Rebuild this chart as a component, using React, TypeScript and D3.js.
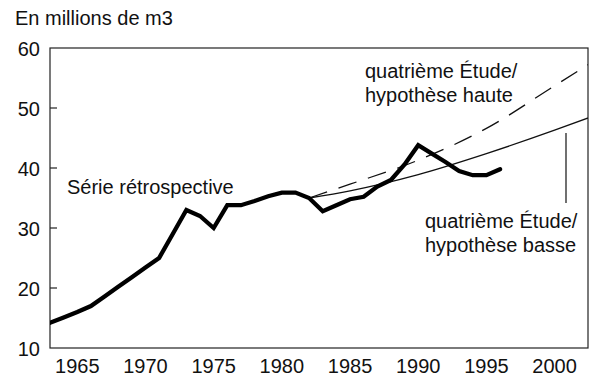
import React, { useRef, useEffect } from "react";
import * as d3 from "d3";

// historical series (millions of m3)
const histYears = [
  1963, 1964, 1965, 1966, 1967, 1968, 1969, 1970, 1971, 1972, 1973, 1974,
  1975, 1976, 1977, 1978, 1979, 1980, 1981, 1982, 1983, 1984, 1985, 1986,
  1987, 1988, 1989, 1990, 1991, 1992, 1993, 1994, 1995, 1996,
];
const histValues = [
  14.2, 15.1, 16.0, 17.0, 18.6, 20.2, 21.8, 23.4, 25.0, 29.0, 33.0, 32.0,
  30.0, 33.8, 33.8, 34.5, 35.3, 35.9, 35.9, 35.0, 32.8, 33.8, 34.8, 35.2,
  36.9, 38.0, 40.6, 43.8, 42.4, 41.0, 39.5, 38.8, 38.8, 39.8,
];

// projections, fourth study
const projYears = [1982, 1985, 1990, 1995, 2000, 2003];
const highValues = [35.0, 37.3, 41.3, 46.6, 53.7, 58.0];
const lowValues = [35.0, 36.2, 38.9, 42.4, 46.3, 48.8];

const xTicks = [1965, 1970, 1975, 1980, 1985, 1990, 1995, 2000];
const yTicks = [10, 20, 30, 40, 50, 60];

const unitLabel = "En millions de m3";
const histLabel = "Série rétrospective";
const highLabel = ["quatrième Étude/", "hypothèse haute"];
const lowLabel = ["quatrième Étude/", "hypothèse basse"];

const App = () => {
  const svgRef = useRef<SVGSVGElement>(null);

  useEffect(() => {
    const svg = d3.select(svgRef.current);
    svg.selectAll("*").remove();

    const width = 600,
      height = 388,
      margin = { top: 48, right: 12, bottom: 40, left: 50 },
      font = "'Liberation Sans', Arial, Helvetica, sans-serif";

    const x = d3
      .scaleLinear()
      .domain([1963, 2002.45])
      .range([margin.left, width - margin.right]);
    const y = d3
      .scaleLinear()
      .domain([10, 60])
      .range([height - margin.bottom, margin.top]);

    svg
      .append("defs")
      .append("clipPath")
      .attr("id", "plot-clip")
      .append("rect")
      .attr("x", margin.left)
      .attr("y", margin.top)
      .attr("width", width - margin.left - margin.right)
      .attr("height", height - margin.top - margin.bottom);

    // frame
    svg
      .append("rect")
      .attr("x", margin.left)
      .attr("y", margin.top)
      .attr("width", width - margin.left - margin.right)
      .attr("height", height - margin.top - margin.bottom)
      .attr("fill", "none")
      .attr("stroke", "#222")
      .attr("stroke-width", 1.2);

    // y ticks inside + labels
    svg
      .append("g")
      .selectAll("line")
      .data(yTicks.filter((d) => d > 10 && d < 60))
      .enter()
      .append("line")
      .attr("x1", margin.left)
      .attr("x2", margin.left + 7)
      .attr("y1", (d) => y(d))
      .attr("y2", (d) => y(d))
      .attr("stroke", "#222")
      .attr("stroke-width", 1.2);

    svg
      .append("g")
      .selectAll("text")
      .data(yTicks)
      .enter()
      .append("text")
      .attr("x", 40)
      .attr("y", (d) => y(d) + 8)
      .attr("text-anchor", "end")
      .attr("font-family", font)
      .attr("font-size", 20)
      .attr("fill", "#111")
      .text((d) => d);

    // x labels
    svg
      .append("g")
      .selectAll("text")
      .data(xTicks)
      .enter()
      .append("text")
      .attr("x", (d) => x(d))
      .attr("y", height - margin.bottom + 25)
      .attr("text-anchor", "middle")
      .attr("font-family", font)
      .attr("font-size", 20)
      .attr("fill", "#111")
      .text((d) => d);

    const plot = svg.append("g").attr("clip-path", "url(#plot-clip)");

    const projLine = d3
      .line<number>()
      .x((d, i) => x(projYears[i]))
      .y((d) => y(d))
      .curve(d3.curveMonotoneX);

    // high hypothesis (dashed)
    plot
      .append("path")
      .attr("d", projLine(highValues))
      .attr("fill", "none")
      .attr("stroke", "#111")
      .attr("stroke-width", 1.3)
      .attr("stroke-dasharray", "19 12");

    // low hypothesis (thin solid)
    plot
      .append("path")
      .attr("d", projLine(lowValues))
      .attr("fill", "none")
      .attr("stroke", "#111")
      .attr("stroke-width", 1.3);

    // historical (thick)
    const histLine = d3
      .line<number>()
      .x((d, i) => x(histYears[i]))
      .y((d) => y(d));

    plot
      .append("path")
      .attr("d", histLine(histValues))
      .attr("fill", "none")
      .attr("stroke", "#000")
      .attr("stroke-width", 4.3)
      .attr("stroke-linejoin", "miter")
      .attr("stroke-linecap", "round");

    // leader line for low label
    svg
      .append("line")
      .attr("x1", 566)
      .attr("x2", 566)
      .attr("y1", 133)
      .attr("y2", 203)
      .attr("stroke", "#111")
      .attr("stroke-width", 1.2);

    const addText = (txt: string, tx: number, ty: number) =>
      svg
        .append("text")
        .attr("x", tx)
        .attr("y", ty)
        .attr("font-family", font)
        .attr("font-size", 20)
        .attr("fill", "#111")
        .text(txt);

    addText(unitLabel, 15, 25);
    addText(histLabel, 67, 194);
    addText(highLabel[0], 365, 78);
    addText(highLabel[1], 365, 102);
    addText(lowLabel[0], 425, 228);
    addText(lowLabel[1], 425, 252);
  }, []);

  return (
    <div style={{ position: "absolute", left: 0, top: 0 }}>
      <svg
        ref={svgRef}
        width={600}
        height={388}
        style={{ display: "block", background: "#fff" }}
      ></svg>
    </div>
  );
};

export default App;
